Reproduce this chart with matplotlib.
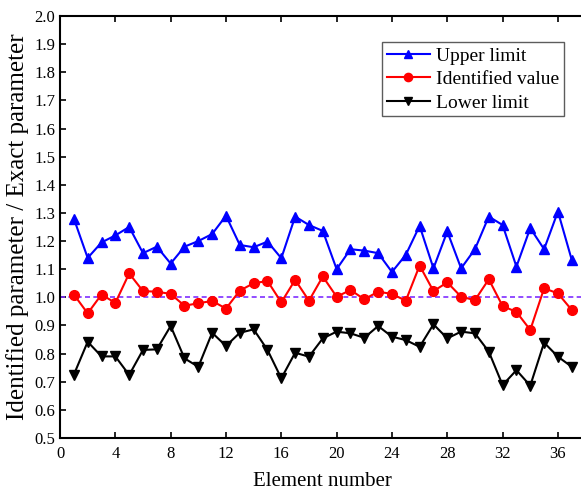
import numpy as np
import matplotlib.pyplot as plt

# Upper/lower bounds and identified stiffness ratio for each element
elements = np.arange(1, 38)
upper = [1.28, 1.14, 1.195, 1.22, 1.25, 1.157, 1.18, 1.12, 1.18, 1.20, 1.225, 1.29,
         1.186, 1.178, 1.198, 1.139, 1.287, 1.257, 1.236, 1.10, 1.171, 1.166, 1.157, 1.09,
         1.151, 1.254, 1.103, 1.234, 1.103, 1.171, 1.287, 1.257, 1.109, 1.246, 1.171, 1.305, 1.133]
identified = [1.01, 0.943, 1.01, 0.98, 1.085, 1.022, 1.02, 1.012, 0.97, 0.979, 0.987, 0.96,
              1.024, 1.05, 1.058, 0.982, 1.062, 0.988, 1.074, 1.002, 1.026, 0.993, 1.02, 1.012,
              0.988, 1.113, 1.022, 1.053, 1.002, 0.99, 1.064, 0.969, 0.948, 0.884, 1.032, 1.014, 0.955]
lower = [0.725, 0.842, 0.79, 0.79, 0.724, 0.813, 0.815, 0.898, 0.783, 0.753, 0.874, 0.827,
         0.874, 0.886, 0.813, 0.712, 0.803, 0.789, 0.854, 0.878, 0.872, 0.856, 0.898, 0.86,
         0.848, 0.824, 0.904, 0.854, 0.878, 0.872, 0.807, 0.688, 0.741, 0.686, 0.839, 0.789, 0.753]

plt.rcParams['font.family'] = 'Liberation Serif'

fig = plt.figure(figsize=(5.81, 4.92), dpi=100)
ax = fig.add_axes([0.1033, 0.1098, 0.9046, 0.8577])

ax.plot([0, 38], [1.0, 1.0], color='#7f2fff', linestyle=(0, (3, 2)), linewidth=1.2)
ax.plot(elements, upper, color='blue', marker='^', markersize=7.5, linewidth=1.5, label='Upper limit')
ax.plot(elements, identified, color='red', marker='o', markersize=7, linewidth=1.5, label='Identified value')
ax.plot(elements, lower, color='black', marker='v', markersize=7.5, linewidth=1.5, label='Lower limit')

ax.set_xlim(0, 38)
ax.set_ylim(0.5, 2.0)
ax.set_xticks(np.arange(0, 37, 4))
ax.set_yticks(np.arange(0.5, 2.01, 0.1))
ax.set_yticklabels([f'{v:.1f}' for v in np.arange(0.5, 2.01, 0.1)])
ax.tick_params(direction='in', labelsize=12, width=1.2, length=4, top=True)
ax.tick_params(axis='x', pad=6)
for s in ax.spines.values():
    s.set_linewidth(1.5)

ax.set_xlabel('Element number', fontsize=15, labelpad=7)
ax.set_ylabel('Identified parameter / Exact parameter', fontsize=18, labelpad=4)

leg = ax.legend(loc='upper left', bbox_to_anchor=(0.6126, 0.938), fontsize=14, frameon=True,
                fancybox=False, edgecolor='#333333', handlelength=2.2, borderpad=0.25,
                labelspacing=0.3, handletextpad=0.35, borderaxespad=0, markerscale=0.85)
leg.get_frame().set_linewidth(1.0)

fig.savefig('out.png', dpi=100)
